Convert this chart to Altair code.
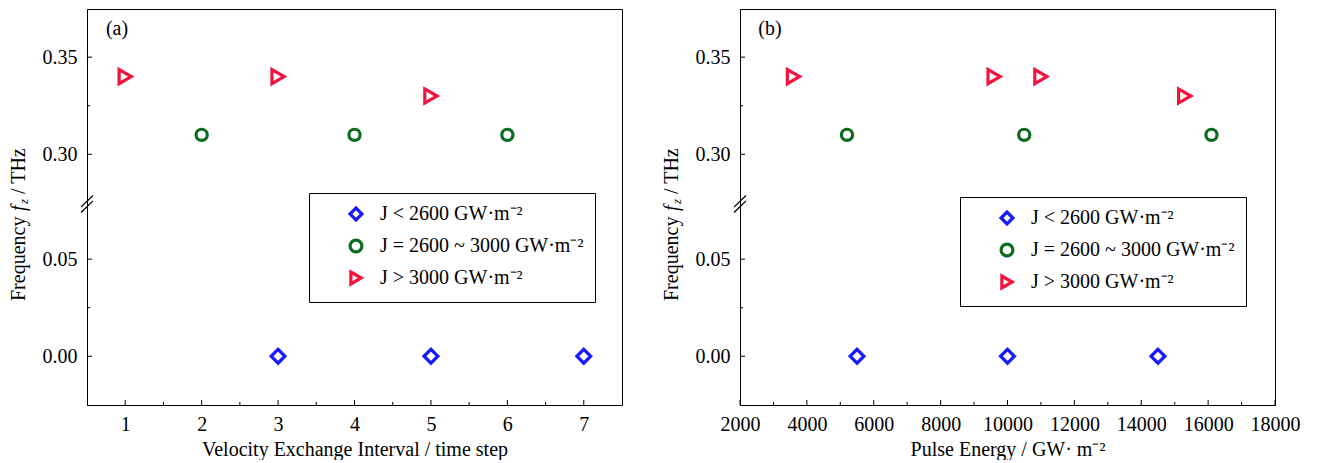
import altair as alt
import pandas as pd

# ---------------- data ----------------
cats = ["J < 2600 GW·m⁻²", "J = 2600 ~ 3000 GW·m⁻²", "J > 3000 GW·m⁻²"]
colors = ["#1a1aff", "#0b6b1e", "#f2143c"]
shapes = ["diamond", "circle", "triangle-right"]

# panel (a): velocity exchange interval
a_lo_x = [3, 5, 7]
a_lo_f = [0.00, 0.00, 0.00]
a_mid_x = [2, 4, 6]
a_mid_f = [0.31, 0.31, 0.31]
a_hi_x = [1, 3, 5]
a_hi_f = [0.34, 0.34, 0.33]

# panel (b): pulse energy
b_lo_x = [5500, 10000, 14500]
b_lo_f = [0.00, 0.00, 0.00]
b_mid_x = [5200, 10500, 16100]
b_mid_f = [0.31, 0.31, 0.31]
b_hi_x = [3600, 9600, 11000, 15300]
b_hi_f = [0.34, 0.34, 0.34, 0.33]

a_major = [1, 2, 3, 4, 5, 6, 7]
a_minor = [1.5, 2.5, 3.5, 4.5, 5.5, 6.5]
b_major = [2000, 4000, 6000, 8000, 10000, 12000, 14000, 16000, 18000]
b_minor = [3000, 5000, 7000, 9000, 11000, 13000, 15000, 17000]
y_major = [0.00, 0.05, 0.30, 0.35]
y_minor = [0.025, 0.325]

BREAK_SHIFT = 0.196  # upper segment (>=0.30) shifted down for the broken axis
W, H = 535, 396
FONT = "Liberation Serif"
SIZES = [190, 125, 200]


def frame(xs, fs, cs):
    return pd.DataFrame({"x": xs, "f": fs, "cat": cs})


df_a = [frame(a_lo_x, a_lo_f, [cats[0]] * len(a_lo_x)),
        frame(a_mid_x, a_mid_f, [cats[1]] * len(a_mid_x)),
        frame(a_hi_x, a_hi_f, [cats[2]] * len(a_hi_x))]
df_b = [frame(b_lo_x, b_lo_f, [cats[0]] * len(b_lo_x)),
        frame(b_mid_x, b_mid_f, [cats[1]] * len(b_mid_x)),
        frame(b_hi_x, b_hi_f, [cats[2]] * len(b_hi_x))]

T_EXPR = f"datum.f > 0.2 ? datum.f - {BREAK_SHIFT} : datum.f"
one = pd.DataFrame({"k": [0]})


def panel(dfs, xdom, major, minor, xtitle, xfmt, tag, legx, legy):
    xs = alt.Scale(domain=xdom, nice=False, zero=False)
    ys = alt.Scale(domain=[-0.0251, 0.1788], nice=False, zero=False)
    xaxis = alt.Axis(
        values=major, title=xtitle, format=xfmt, ticks=False, tickSize=0,
        labelPadding=9, titlePadding=5, labelOverlap=False, labelFlush=False,
        labelBound=False, grid=False, labelFont=FONT, labelFontSize=20,
        labelColor="black", titleFont=FONT, titleFontSize=20,
        titleFontWeight="normal", titleColor="black", domainColor="black")
    yaxis = alt.Axis(
        values=[0.0, 0.05, 0.30 - BREAK_SHIFT, 0.35 - BREAK_SHIFT],
        labelExpr=f"datum.value > 0.08 ? format(datum.value + {BREAK_SHIFT}, '.2f') : format(datum.value, '.2f')",
        title=None, ticks=False, tickSize=0, labelPadding=10, grid=False,
        labelFont=FONT, labelFontSize=20, labelColor="black", domainColor="black")
    leg = alt.Legend(
        title=None, orient="none", legendX=legx, legendY=legy,
        strokeColor="black", fillColor="white", padding=11,
        symbolOffset=26, labelOffset=14, rowPadding=6,
        labelFont=FONT, labelFontSize=20, labelColor="black",
        symbolStrokeWidth=3.2, symbolSize=140, labelLimit=400,
    )
    layers = []
    for d, s in zip(dfs, SIZES):
        layers.append(alt.Chart(d).transform_calculate(t=T_EXPR).mark_point(
            filled=False, strokeWidth=3.2, opacity=1, size=s
        ).encode(
            x=alt.X("x:Q", scale=xs, axis=xaxis),
            y=alt.Y("t:Q", scale=ys, axis=yaxis),
            color=alt.Color("cat:N", scale=alt.Scale(domain=cats, range=colors), legend=leg),
            shape=alt.Shape("cat:N", scale=alt.Scale(domain=cats, range=shapes), legend=leg),
        ))

    xmaj = alt.Chart(pd.DataFrame({"v": major})).mark_rule(color="black").encode(
        x=alt.X("v:Q", scale=xs, axis=xaxis), y=alt.value(H), y2=alt.value(H - 5))
    xmin = alt.Chart(pd.DataFrame({"v": minor})).mark_rule(color="black").encode(
        x=alt.X("v:Q", scale=xs, axis=xaxis), y=alt.value(H), y2=alt.value(H - 3))
    ymaj = alt.Chart(pd.DataFrame({"f": y_major})).transform_calculate(t=T_EXPR).mark_rule(
        color="black").encode(y=alt.Y("t:Q", scale=ys, axis=yaxis), x=alt.value(0), x2=alt.value(5))
    ymin = alt.Chart(pd.DataFrame({"f": y_minor})).transform_calculate(t=T_EXPR).mark_rule(
        color="black").encode(y=alt.Y("t:Q", scale=ys, axis=yaxis), x=alt.value(0), x2=alt.value(3))

    brk = alt.Chart(pd.DataFrame({"f": [0.0740, 0.0768], "f2": [0.0800, 0.0828]})).mark_rule(
        color="black", strokeWidth=1.3).encode(
        y=alt.Y("f:Q", scale=ys, axis=yaxis), y2="f2:Q", x=alt.value(-6), x2=alt.value(6))

    def txt(s, x, y, size=20, style="normal"):
        return alt.Chart(one).mark_text(
            font=FONT, fontSize=size, fontStyle=style, angle=270, align="left",
            baseline="middle", color="black").encode(
            x=alt.value(x), y=alt.value(y), text=alt.value(s))

    t1 = txt("Frequency", -68, 292)
    t2 = txt("f", -68, 202, style="italic")
    t3 = txt("z", -63, 195, size=13, style="italic")
    t4 = txt("/ THz", -68, 185)
    lab = alt.Chart(one).mark_text(font=FONT, fontSize=20, color="black").encode(
        x=alt.value(30), y=alt.value(20), text=alt.value(tag))

    return alt.layer(*layers, xmaj, xmin, ymaj, ymin, brk, t1, t2, t3, t4, lab).properties(
        width=W, height=H)


pa = panel(df_a, [0.5, 7.5], a_major, a_minor,
           "Velocity Exchange Interval / time step", "d", "(a)", 222, 184)
pb = panel(df_b, [2000, 18000], b_major, b_minor,
           "Pulse Energy / GW· m⁻²", "d", "(b)", 220, 188)

chart = alt.hconcat(pa, pb, spacing=38).resolve_scale(
    x="independent", y="independent", color="independent", shape="independent"
).resolve_legend(color="independent", shape="independent").properties(
    padding=0, background="white"
).configure_view(
    stroke="black", strokeWidth=1
)

chart.save("out.html", embed_options={"renderer": "svg", "actions": False})
